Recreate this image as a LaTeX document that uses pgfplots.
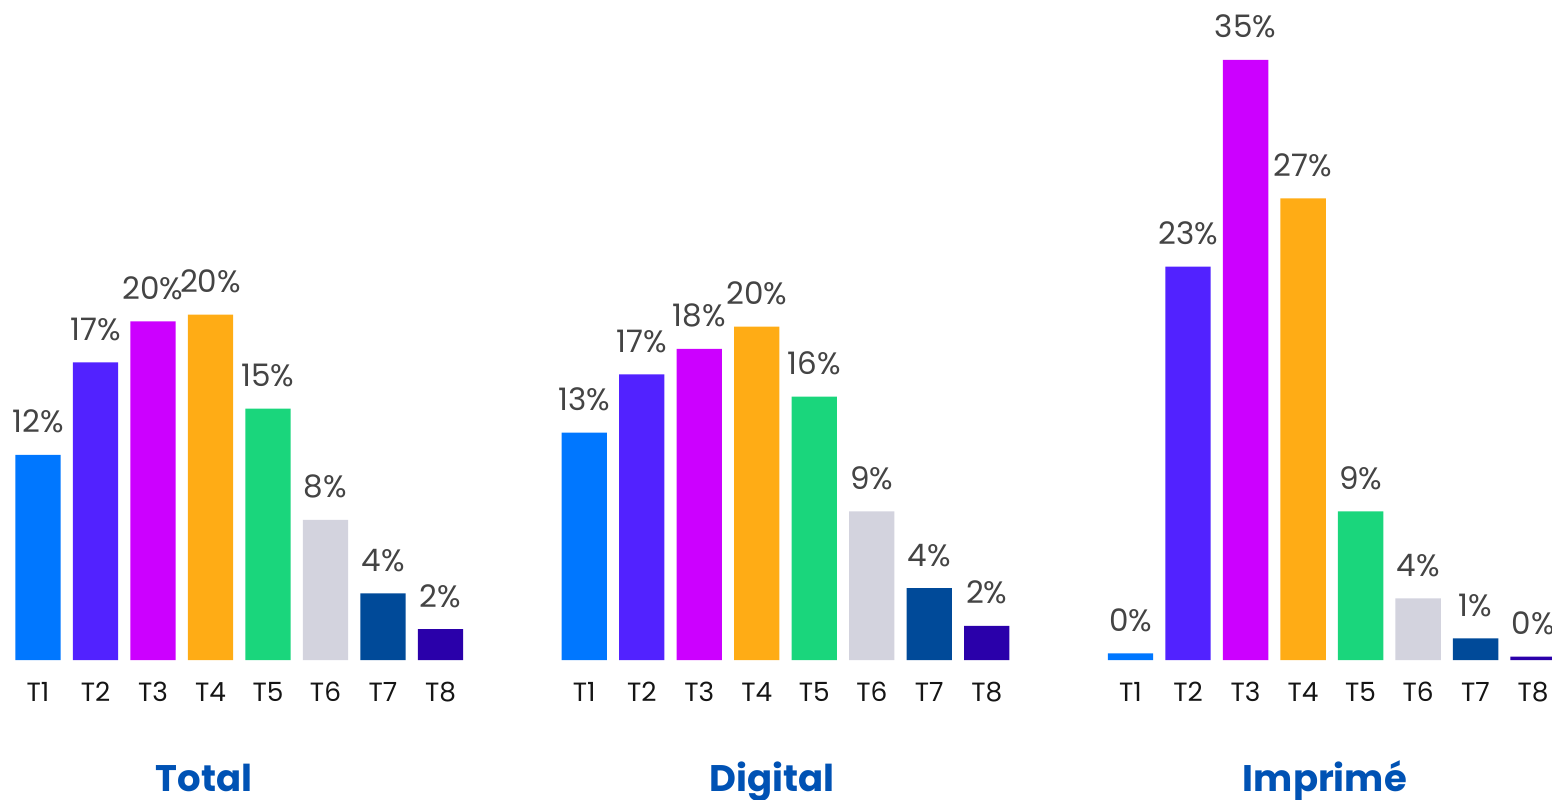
\documentclass[border=0pt]{standalone}
\usepackage{fontspec}
\setmainfont{Poppins}
\usepackage{pgfplots}
\pgfplotsset{compat=1.18}
\definecolor{cA}{HTML}{0077FF}
\definecolor{cB}{HTML}{5222FF}
\definecolor{cC}{HTML}{CC00FF}
\definecolor{cD}{HTML}{FFAC15}
\definecolor{cE}{HTML}{1AD67C}
\definecolor{cF}{HTML}{D3D3DE}
\definecolor{cG}{HTML}{004A99}
\definecolor{cH}{HTML}{2A00AA}
\definecolor{labelgray}{HTML}{444444}
\definecolor{tickblack}{HTML}{151515}
\definecolor{titleblue}{HTML}{0052B4}
\begin{document}
\begin{tikzpicture}
\begin{axis}[
  at={(0,0)}, anchor=south west,
  scale only axis, width=776pt, height=330pt,
  xmin=-0.661, xmax=26.33, ymin=0, ymax=38.6,
  axis line style={draw=none}, major tick length=0pt,
  ytick=\empty,
  xtick={0,1,2,3,4,5,6,7,9.5,10.5,11.5,12.5,13.5,14.5,15.5,16.5,19,20,21,22,23,24,25,26},
  xticklabels={T1,T2,T3,T4,T5,T6,T7,T8,T1,T2,T3,T4,T5,T6,T7,T8,T1,T2,T3,T4,T5,T6,T7,T8},
  xticklabel style={anchor=base, yshift=-20.85pt, font=\fontsize{13.2}{16}\selectfont, text=tickblack},
  point meta=explicit symbolic,
  nodes near coords={\pgfplotspointmeta\%},
  every node near coord/.append style={anchor=base, yshift=11pt, font=\fontsize{15.5}{18}\selectfont, text=labelgray},
  every axis plot/.append style={ybar, bar width=0.79, bar shift=0pt, draw=none},
  clip=false,
]
\addplot[fill=cA] table[meta=l]{
x y l
0 12.0 12
9.5 13.3 13
19 0.39 0
};
\addplot[fill=cB] table[meta=l]{
x y l
1 17.4 17
10.5 16.7 17
20 23.0 23
};
\addplot[fill=cC] table[meta=l]{
x y l
2 19.8 20
11.5 18.2 18
21 35.1 35
};
\addplot[fill=cD] table[meta=l]{
x y l
3 20.2 20
12.5 19.5 20
22 27.0 27
};
\addplot[fill=cE] table[meta=l]{
x y l
4 14.7 15
13.5 15.4 16
23 8.7 9
};
\addplot[fill=cF] table[meta=l]{
x y l
5 8.2 8
14.5 8.7 9
24 3.6 4
};
\addplot[fill=cG] table[meta=l]{
x y l
6 3.9 4
15.5 4.2 4
25 1.27 1
};
\addplot[fill=cH] table[meta=l]{
x y l
7 1.8 2
16.5 2.0 2
26 0.2 0
};
\node[anchor=base, yshift=-65.85pt, font=\bfseries\fontsize{18.5}{22}\selectfont, text=titleblue] at (axis cs:2.887,0) {Total};
\node[anchor=base, yshift=-65.85pt, font=\bfseries\fontsize{18.5}{22}\selectfont, text=titleblue] at (axis cs:12.765,0) {Digital};
\node[anchor=base, yshift=-65.85pt, font=\bfseries\fontsize{18.5}{22}\selectfont, text=titleblue] at (axis cs:22.38,0) {Imprimé};
\end{axis}
\pgfresetboundingbox
\path[use as bounding box] (0,-69.5pt) rectangle (776pt,330pt);
\end{tikzpicture}
\end{document}
